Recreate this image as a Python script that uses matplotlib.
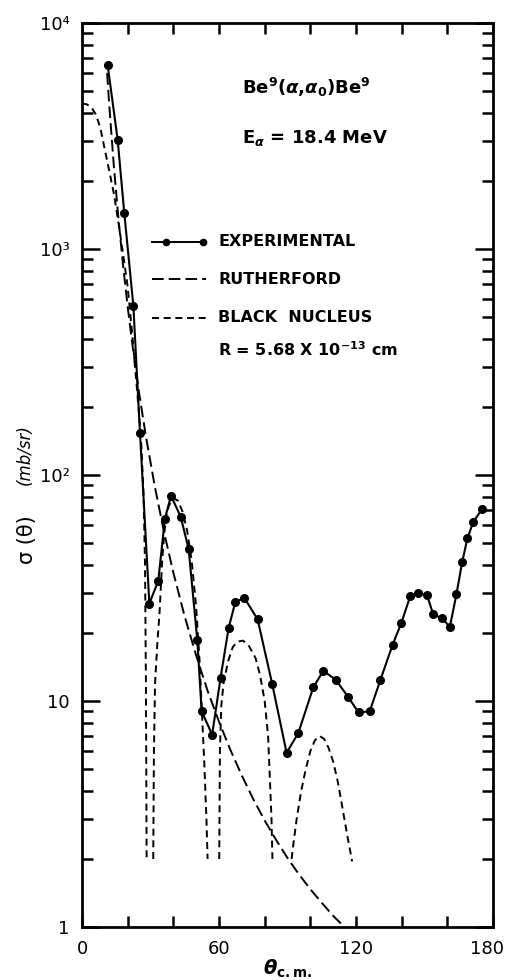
import matplotlib
matplotlib.use("Agg")
import matplotlib.pyplot as plt
import matplotlib.transforms as mtransforms
from matplotlib.ticker import FixedLocator, LogLocator, NullFormatter, FixedFormatter

plt.rcParams['font.family'] = ['DejaVu Sans']
plt.rcParams['mathtext.fontset'] = 'custom'
plt.rcParams['mathtext.rm'] = 'DejaVu Sans:bold'
plt.rcParams['mathtext.it'] = 'DejaVu Sans:italic:bold'
plt.rcParams['mathtext.bf'] = 'DejaVu Sans:bold'

# ---------------- data ----------------
theta_exp = [11.2, 15.6, 18.5, 22.5, 25.4, 29.5, 33.4, 36.3, 39.0, 43.3, 46.7,
             50.5, 52.4, 57.0, 60.7, 64.2, 67.1, 71.0, 76.9, 83.3, 89.6, 94.7,
             101.3, 105.7, 111.2, 116.6, 121.1, 126.0, 130.7, 136.0, 139.9,
             143.8, 147.2, 151.1, 153.8, 157.7, 161.1, 164.0, 166.5, 168.8,
             171.4, 175.3]
sigma_exp = [6550, 3050, 1450, 560, 153, 27, 34, 64, 81, 65, 47,
             18.6, 9.0, 7.1, 12.7, 21, 27.3, 28.7, 23, 11.9, 5.9, 7.2,
             11.5, 13.6, 12.4, 10.4, 8.9, 9.0, 12.4, 17.7, 22.2,
             29.2, 29.9, 29.4, 24.2, 23.2, 21.3, 29.7, 41.2, 52.5,
             62, 71]

theta_ruth = [11, 12, 14, 16, 18, 20, 22, 25, 28, 32, 36, 40, 45, 50, 55, 60,
              65, 70, 75, 80, 85, 90, 95, 100, 105, 110, 115]
sigma_ruth = [6000, 4240, 2290, 1350, 845, 556, 382, 231, 148, 87.7, 55.5, 37.0,
              23.6, 15.9, 11.1, 8.1, 6.07, 4.68, 3.68, 2.96, 2.43, 2.02, 1.71,
              1.47, 1.28, 1.12, 1.0]

theta_bn1 = [0, 2, 4, 6, 8, 10, 12, 14, 16, 18, 20, 22, 23, 24, 25, 26, 27,
             27.6, 28.0, 28.3]
sigma_bn1 = [4400, 4370, 4250, 3950, 3450, 2750, 2200, 1750, 1300, 950, 680,
             420, 320, 245, 185, 135, 80, 40, 12, 2]
theta_bn2 = [31.2, 31.5, 32, 33, 34, 35, 36, 37, 38, 40, 42, 44, 46, 48, 50,
             51.5, 52.5, 53.5, 54.5, 55.0]
sigma_bn2 = [2, 6, 12, 18, 25, 40, 55, 66, 73, 79, 77, 69, 57, 42, 26,
             15, 9, 5.5, 3, 2]
theta_bn3 = [60.1, 60.4, 61, 62, 64, 66, 68, 70.5, 73, 76, 78, 80, 81.5, 82.5,
             83.0, 83.4]
sigma_bn3 = [2, 6, 9.5, 12, 15, 17.3, 18.3, 18.5, 17.6, 15.5, 13, 10, 7, 4,
             3, 2]
theta_bn4 = [91.8, 92.5, 94, 96, 98, 100, 102, 104, 106, 108, 110, 112, 114,
             116, 118.3]
sigma_bn4 = [2, 2.3, 3, 4, 5, 6, 6.7, 7, 6.8, 6.2, 5.4, 4.4, 3.4, 2.6, 1.95]

x_ticks = [0, 20, 40, 60, 80, 100, 120, 140, 160, 180]
x_ticklabels = ['0', '', '', '60', '', '', '120', '', '', '180']
y_ticks = [1, 10, 100, 1000, 10000]
y_ticklabels = ['1', '10', '10²', '10³', '10⁴']

# ---------------- figure ----------------
fig = plt.figure(figsize=(5.08, 9.8), dpi=100)
ax = fig.add_axes([82/508, 53/980, 411/508, 904/980])
ax.set_yscale('log')
ax.set_xlim(0, 180)
ax.set_ylim(1, 1e4)

ax.plot(theta_exp, sigma_exp, color='black', lw=1.5, marker='o', ms=5.5,
        markerfacecolor='black', markeredgecolor='black', solid_joinstyle='round')
ruth, = ax.plot(theta_ruth, sigma_ruth, color='black', lw=1.4)
ruth.set_dashes((6.0, 2.6))
for th, sg in [(theta_bn1, sigma_bn1), (theta_bn2, sigma_bn2),
               (theta_bn3, sigma_bn3), (theta_bn4, sigma_bn4)]:
    l, = ax.plot(th, sg, color='black', lw=1.4)
    l.set_dashes((3.6, 2.4))

# ticks
ax.xaxis.set_major_locator(FixedLocator(x_ticks))
ax.xaxis.set_major_formatter(FixedFormatter(x_ticklabels))
ax.yaxis.set_major_locator(FixedLocator(y_ticks))
ax.yaxis.set_major_formatter(FixedFormatter(y_ticklabels))
ax.yaxis.set_minor_locator(LogLocator(base=10, subs=range(2, 10)))
ax.yaxis.set_minor_formatter(NullFormatter())
ax.tick_params(axis='x', which='major', direction='in', length=8, width=1.8,
               top=True, bottom=True, labelsize=13, pad=9)
ax.tick_params(axis='y', which='major', direction='in', length=13, width=1.8,
               left=True, right=True, labelsize=13, pad=9)
ax.tick_params(axis='y', which='minor', direction='in', length=8, width=1.8,
               left=True, right=True)
for s in ax.spines.values():
    s.set_linewidth(2.0)

fig.canvas.draw()
xl = ax.get_xticklabels()
xl[-1].set_transform(xl[-1].get_transform() +
                     mtransforms.ScaledTranslation(-6/100, 0, fig.dpi_scale_trans))

ax.set_xlabel(r'$\theta_{\mathrm{c.m.}}$', fontsize=14, labelpad=0)
fig.text(27/508, 1-540/980, 'σ (θ)', rotation=90, fontsize=15,
         ha='center', va='center')
fig.text(25/508, 1-455/980, '(mb/sr)', rotation=90, fontsize=12,
         fontstyle='italic', ha='center', va='center')

# annotations
fig.text(242/508, 1-87/980, r'Be$^9$($\alpha$,$\alpha_0$)Be$^9$',
         fontsize=13, fontweight='bold', ha='left', va='center')
fig.text(242/508, 1-138/980, r'E$_\alpha$ = 18.4 MeV',
         fontsize=13, fontweight='bold', ha='left', va='center')

# legend drawn manually
def leg_line(y):
    l, = ax.plot([152/508, 206/508], [1-y/980, 1-y/980], transform=fig.transFigure,
                 color='black', lw=1.4, clip_on=False)
    return l

leg_line(242)
ax.plot([166/508, 203/508], [1-242/980]*2, transform=fig.transFigure, ls='none',
        marker='o', ms=4.5, color='black', clip_on=False)
lr = leg_line(279)
lr.set_dashes((6.0, 2.6))
lb = leg_line(318)
lb.set_dashes((3.6, 2.4))
for y, s in [(242, 'EXPERIMENTAL'), (279, 'RUTHERFORD'), (318, 'BLACK  NUCLEUS'),
             (350, r'R = 5.68 X 10$^{-13}$ cm')]:
    fig.text(218/508, 1-y/980, s, fontsize=11.5, fontweight='bold',
             ha='left', va='center')

fig.savefig('out.png', dpi=100)
